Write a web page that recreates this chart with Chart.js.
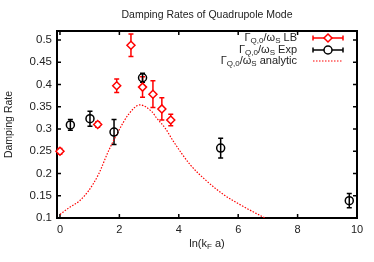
<!DOCTYPE html>
<html>
<head>
<meta charset="utf-8">
<script src="https://cdn.jsdelivr.net/npm/chart.js@4"></script>
<style>
  html, body { margin: 0; padding: 0; background: #fff; }
  #wrap { width: 374px; height: 262px; }
</style>
</head>
<body>
<div id="wrap"><canvas id="grafico"></canvas></div>
<script>
// valores
const lbX   = [0.0, 1.27, 1.91, 2.39, 2.78, 3.13, 3.43, 3.73];
const lbY   = [0.250, 0.310, 0.397, 0.488, 0.394, 0.378, 0.345, 0.320];
const lbErr = [0.006, 0.006, 0.015, 0.025, 0.023, 0.030, 0.025, 0.013];

const expX   = [0.35, 1.01, 1.82, 2.78, 5.41, 9.74];
const expY   = [0.309, 0.323, 0.293, 0.415, 0.257, 0.139];
const expErr = [0.012, 0.017, 0.028, 0.010, 0.022, 0.016];

const anaX = [0.0, 0.3, 0.65, 0.95, 1.29, 1.63, 1.96, 2.30, 2.69, 3.09, 3.26, 3.54, 3.82, 4.38, 4.94, 5.50, 6.06, 6.79, 7.0];
const anaY = [0.108, 0.123, 0.138, 0.160, 0.197, 0.250, 0.294, 0.332, 0.354, 0.339, 0.324, 0.302, 0.272, 0.220, 0.183, 0.153, 0.130, 0.104, 0.097];

const xTicks = [0, 2, 4, 6, 8, 10];
const yTicks = [0.1, 0.15, 0.2, 0.25, 0.3, 0.35, 0.4, 0.45, 0.5];

const VERMELHO = "#ff0000";
const PRETO = "#000000";
const FONTE = "'Liberation Sans', Arial, sans-serif";

function pontos(xs, ys) {
    return xs.map((x, i) => ({ x: x, y: ys[i] }));
}

// texto com subscritos (Γ_{Q,0}/ω_S ...)
function larguraPartes(ctx, partes) {
    let w = 0;
    partes.forEach((p) => {
        ctx.font = (p.sub ? "8px " : "11px ") + FONTE;
        w += ctx.measureText(p.t).width;
    });
    return w;
}

function desenharPartes(ctx, partes, x, y) {
    ctx.textAlign = "left";
    ctx.textBaseline = "middle";
    partes.forEach((p) => {
        ctx.font = (p.sub ? "8px " : "11px ") + FONTE;
        ctx.fillText(p.t, x, y + (p.sub ? 3 : 0));
        x += ctx.measureText(p.t).width;
    });
}

function rotulo(sufixo) {
    return [
        { t: "\u0393" }, { t: "Q,0", sub: true },
        { t: "/\u03c9" }, { t: "S", sub: true },
        { t: " " + sufixo }
    ];
}

function barrasErro(ctx, xs, ys, errs, cor, sx, sy) {
    ctx.save();
    ctx.strokeStyle = cor;
    ctx.lineWidth = 1.5;
    xs.forEach((v, i) => {
        const px = sx.getPixelForValue(v);
        const p1 = sy.getPixelForValue(ys[i] - errs[i]);
        const p2 = sy.getPixelForValue(ys[i] + errs[i]);
        ctx.beginPath();
        ctx.moveTo(px, p1); ctx.lineTo(px, p2);
        ctx.moveTo(px - 2.5, p1); ctx.lineTo(px + 2.5, p1);
        ctx.moveTo(px - 2.5, p2); ctx.lineTo(px + 2.5, p2);
        ctx.stroke();
    });
    ctx.restore();
}

const enfeites = {
    id: "enfeites",
    beforeDatasetsDraw(chart) {
        const { ctx, chartArea: a, scales } = chart;
        ctx.save();

        // moldura
        ctx.strokeStyle = PRETO;
        ctx.lineWidth = 2;
        ctx.strokeRect(a.left, a.top, a.right - a.left, a.bottom - a.top);

        // marcas internas
        ctx.lineWidth = 1.5;
        ctx.beginPath();
        xTicks.forEach((v) => {
            const px = scales.x.getPixelForValue(v);
            ctx.moveTo(px, a.bottom); ctx.lineTo(px, a.bottom - 4);
            ctx.moveTo(px, a.top); ctx.lineTo(px, a.top + 4);
        });
        yTicks.forEach((v) => {
            const py = scales.y.getPixelForValue(v);
            ctx.moveTo(a.left, py); ctx.lineTo(a.left + 4, py);
            ctx.moveTo(a.right, py); ctx.lineTo(a.right - 4, py);
        });
        ctx.stroke();
        ctx.restore();

        barrasErro(ctx, lbX, lbY, lbErr, VERMELHO, scales.x, scales.y);
        barrasErro(ctx, expX, expY, expErr, PRETO, scales.x, scales.y);
    },
    afterDraw(chart) {
        const { ctx, chartArea: a } = chart;
        ctx.save();

        const cx = (a.left + a.right) / 2;
        ctx.fillStyle = "#222";

        // título
        ctx.font = "10.5px " + FONTE;
        ctx.textAlign = "center";
        ctx.textBaseline = "middle";
        ctx.fillText("Damping Rates of Quadrupole Mode", cx, 15);

        // rótulo do eixo x: ln(k_F a)
        const partesX = [{ t: "ln(k" }, { t: "F", sub: true }, { t: " a)" }];
        desenharPartes(ctx, partesX, cx - larguraPartes(ctx, partesX) / 2, 244);

        // legenda
        const fimTexto = 297;
        const l1 = 313, l2 = 343;
        const linhas = [
            { partes: rotulo("LB"), cor: VERMELHO, y: 38 },
            { partes: rotulo("Exp"), cor: PRETO, y: 50 },
            { partes: rotulo("analytic"), cor: VERMELHO, y: 61 }
        ];
        linhas.forEach((ln, i) => {
            ctx.fillStyle = "#222";
            desenharPartes(ctx, ln.partes, fimTexto - larguraPartes(ctx, ln.partes), ln.y);
            ctx.strokeStyle = ln.cor;
            if (i < 2) {
                ctx.lineWidth = 1.5;
                ctx.setLineDash([]);
                ctx.beginPath();
                ctx.moveTo(l1, ln.y); ctx.lineTo(l2, ln.y);
                ctx.moveTo(l1, ln.y - 2.5); ctx.lineTo(l1, ln.y + 2.5);
                ctx.moveTo(l2, ln.y - 2.5); ctx.lineTo(l2, ln.y + 2.5);
                ctx.stroke();
                const mx = (l1 + l2) / 2;
                ctx.fillStyle = "#fff";
                ctx.beginPath();
                if (i === 0) {
                    ctx.moveTo(mx, ln.y - 4); ctx.lineTo(mx + 4, ln.y);
                    ctx.lineTo(mx, ln.y + 4); ctx.lineTo(mx - 4, ln.y);
                    ctx.closePath();
                } else {
                    ctx.arc(mx, ln.y, 4, 0, Math.PI * 2);
                }
                ctx.fill();
                ctx.stroke();
            } else {
                ctx.lineWidth = 1.2;
                ctx.setLineDash([1.5, 1.5]);
                ctx.beginPath();
                ctx.moveTo(l1, ln.y); ctx.lineTo(l2, ln.y);
                ctx.stroke();
                ctx.setLineDash([]);
            }
        });
        ctx.restore();
    }
};

const ctx = document.getElementById("grafico").getContext("2d");

new Chart(ctx, {
    type: "scatter",
    data: {
        datasets: [
            {
                label: "LB",
                data: pontos(lbX, lbY),
                pointStyle: "rectRot",
                pointRadius: 4,
                borderColor: VERMELHO,
                backgroundColor: "#fff",
                borderWidth: 1.5,
                showLine: false,
                clip: 6,
            },
            {
                label: "Exp",
                data: pontos(expX, expY),
                pointStyle: "circle",
                pointRadius: 4,
                borderColor: PRETO,
                backgroundColor: "rgba(255,255,255,0)",
                borderWidth: 1.5,
                showLine: false,
                clip: 6,
            },
            {
                label: "analytic",
                data: pontos(anaX, anaY),
                showLine: true,
                pointRadius: 0,
                borderColor: VERMELHO,
                borderWidth: 1.2,
                borderDash: [1.5, 1.5],
                cubicInterpolationMode: "monotone",
            },
        ],
    },
    options: {
        responsive: true,
        maintainAspectRatio: false,
        animation: false,
        layout: { padding: { top: 31, right: 17, left: 0, bottom: 0 } },
        plugins: {
            legend: { display: false },
            tooltip: { enabled: false },
        },
        scales: {
            x: {
                type: "linear",
                min: -0.1,
                max: 10,
                afterBuildTicks: (s) => { s.ticks = xTicks.map((v) => ({ value: v })); },
                afterFit: (s) => { s.height = 44; },
                grid: { display: false, drawTicks: false },
                border: { display: false },
                ticks: {
                    padding: 5,
                    color: "#222",
                    font: { family: FONTE, size: 11 },
                    maxRotation: 0,
                },
            },
            y: {
                min: 0.1,
                max: 0.52,
                afterBuildTicks: (s) => { s.ticks = yTicks.map((v) => ({ value: v })); },
                afterFit: (s) => { s.width = 57; },
                grid: { display: false, drawTicks: false },
                border: { display: false },
                ticks: {
                    padding: 5,
                    color: "#222",
                    font: { family: FONTE, size: 11.5 },
                    callback: (v) => String(+Number(v).toFixed(2)),
                },
                title: {
                    display: true,
                    text: "Damping Rate",
                    color: "#222",
                    font: { family: FONTE, size: 10.5 },
                    padding: { top: 3, bottom: 0 },
                },
            },
        },
    },
    plugins: [enfeites],
});
</script>
</body>
</html>
